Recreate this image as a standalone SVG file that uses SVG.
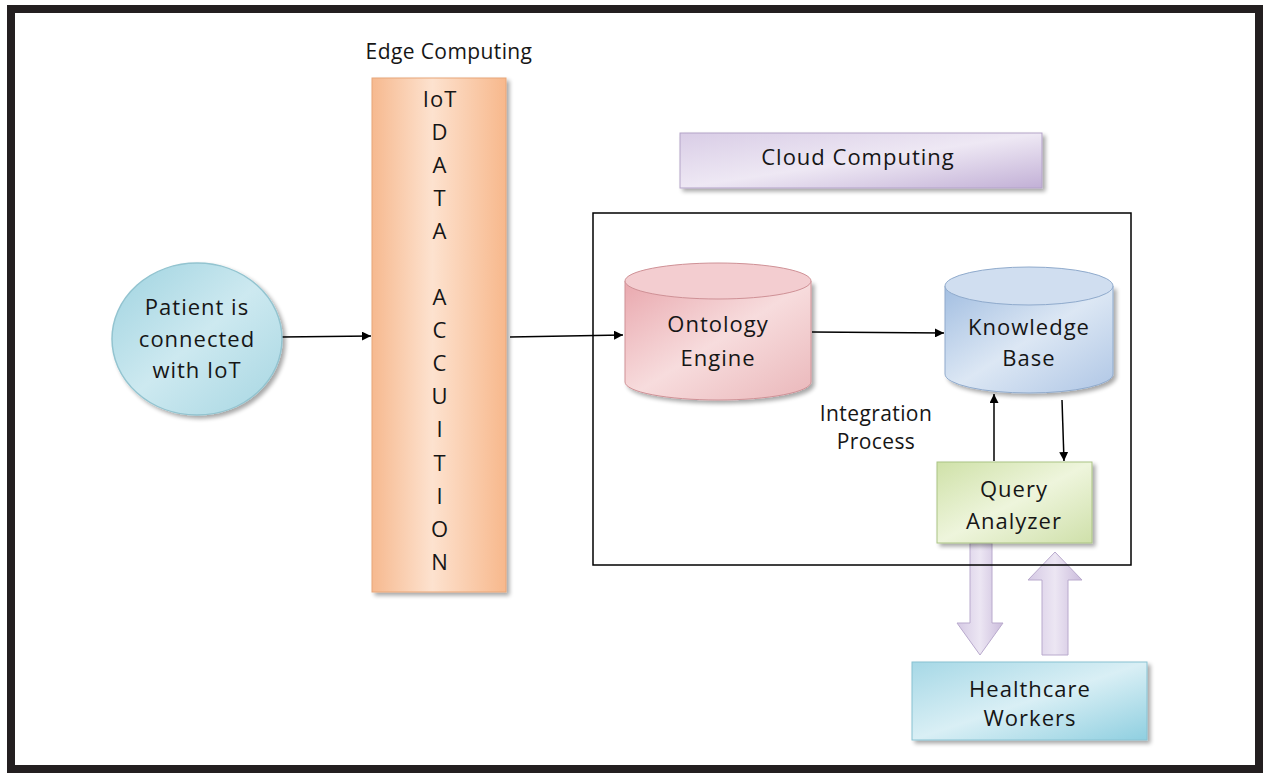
<svg xmlns="http://www.w3.org/2000/svg" width="1263" height="773" viewBox="0 0 1263 773">
<defs>
<style>
text{font-family:"Open Sans","Noto Sans",sans-serif;fill:#161616;text-anchor:middle}
.t{font-size:22px;letter-spacing:1px}
.l{font-size:21px;letter-spacing:0.4px}
.line{stroke:#000;stroke-width:1.5;fill:none}
</style>
<filter id="sh" x="-10%" y="-10%" width="130%" height="130%">
<feGaussianBlur in="SourceAlpha" stdDeviation="2"/>
<feOffset dx="3" dy="3"/>
<feComponentTransfer><feFuncA type="linear" slope="0.35"/></feComponentTransfer>
<feMerge><feMergeNode/><feMergeNode in="SourceGraphic"/></feMerge>
</filter>
<linearGradient id="gCyan" x1="0" y1="0" x2="1" y2="1"><stop offset="0" stop-color="#9fd3e0"/><stop offset="0.5" stop-color="#cde9f0"/><stop offset="1" stop-color="#a6d6e2"/></linearGradient>
<linearGradient id="gOrange" x1="0" y1="0" x2="1" y2="0"><stop offset="0" stop-color="#f6b98f"/><stop offset="0.45" stop-color="#fde2cf"/><stop offset="1" stop-color="#f7b88c"/></linearGradient>
<linearGradient id="gPurple" x1="0" y1="0" x2="1" y2="1"><stop offset="0" stop-color="#d9cde6"/><stop offset="0.5" stop-color="#eee8f4"/><stop offset="1" stop-color="#c2b0d6"/></linearGradient>
<linearGradient id="gPink" x1="0" y1="0" x2="1" y2="1"><stop offset="0" stop-color="#e9a8ae"/><stop offset="0.5" stop-color="#f7dcdd"/><stop offset="1" stop-color="#eab7ba"/></linearGradient>
<linearGradient id="gBlue" x1="0" y1="0" x2="1" y2="1"><stop offset="0" stop-color="#a2bee1"/><stop offset="0.5" stop-color="#dce7f4"/><stop offset="1" stop-color="#afc6e5"/></linearGradient>
<linearGradient id="gGreen" x1="0" y1="0" x2="1" y2="1"><stop offset="0" stop-color="#cfe1a8"/><stop offset="0.5" stop-color="#eef5dc"/><stop offset="1" stop-color="#cfe0aa"/></linearGradient>
<linearGradient id="gArrow" x1="0" y1="0" x2="1" y2="0"><stop offset="0" stop-color="#d5c9e4"/><stop offset="0.5" stop-color="#ece6f3"/><stop offset="1" stop-color="#cbbcdc"/></linearGradient>
<linearGradient id="gHW" x1="0" y1="0" x2="1" y2="1"><stop offset="0" stop-color="#a6d8e6"/><stop offset="0.5" stop-color="#d9eff5"/><stop offset="1" stop-color="#8fcfe0"/></linearGradient>
<marker id="ah" viewBox="0 0 10 10" refX="10" refY="5" markerWidth="9" markerHeight="9" markerUnits="userSpaceOnUse" orient="auto"><path d="M0,0 L10,5 L0,10 z" fill="#000"/></marker>
</defs>
<rect x="0" y="0" width="1263" height="773" fill="#fff"/>
<rect id="frame" x="11" y="9" width="1248" height="760" fill="none" stroke="#231f20" stroke-width="8"/>

<text x="449" y="59" class="l">Edge Computing</text>

<g id="connectors">
<line class="line" x1="282" y1="337" x2="371" y2="336" marker-end="url(#ah)"/>
<line class="line" x1="510" y1="337" x2="623" y2="335" marker-end="url(#ah)"/>
<line class="line" x1="812" y1="332" x2="944" y2="333" marker-end="url(#ah)"/>
<line class="line" x1="994" y1="461" x2="994" y2="394" marker-end="url(#ah)"/>
<line class="line" x1="1062" y1="400" x2="1064" y2="461" marker-end="url(#ah)"/>
<path id="arrowDown" d="M970,543 H992 V623 H1003 L980,655 L957,623 H970 Z" fill="url(#gArrow)" stroke="#b9aacd" stroke-width="1"/>
<path id="arrowUp" d="M1042,655 H1068 V580 H1082 L1055,552 L1028,580 H1042 Z" fill="url(#gArrow)" stroke="#b9aacd" stroke-width="1"/>
</g>

<g id="patient">
<ellipse cx="197" cy="339" rx="85" ry="76" fill="url(#gCyan)" stroke="#93c4d0" stroke-width="1.5" filter="url(#sh)"/>
<text class="t" x="197" y="315">Patient is</text>
<text class="t" x="197" y="347">connected</text>
<text class="t" x="197" y="378">with IoT</text>
</g>

<g id="iot">
<rect x="372" y="78" width="134" height="514" fill="url(#gOrange)" stroke="#e8a679" stroke-width="1" filter="url(#sh)"/>
<text class="t" x="440" y="107">IoT</text>
<text class="t" x="440" y="140">D</text>
<text class="t" x="440" y="173">A</text>
<text class="t" x="440" y="206">T</text>
<text class="t" x="440" y="239">A</text>
<text class="t" x="440" y="305">A</text>
<text class="t" x="440" y="338">C</text>
<text class="t" x="440" y="371">C</text>
<text class="t" x="440" y="404">U</text>
<text class="t" x="440" y="437">I</text>
<text class="t" x="440" y="471">T</text>
<text class="t" x="440" y="504">I</text>
<text class="t" x="440" y="537">O</text>
<text class="t" x="440" y="570">N</text>
</g>

<g id="cloud">
<rect x="680" y="133" width="362" height="55" fill="url(#gPurple)" stroke="#b3a3c8" stroke-width="1" filter="url(#sh)"/>
<text class="t" x="858" y="165">Cloud Computing</text>
</g>

<g id="cloudBox">
<rect x="593" y="213" width="538" height="352" fill="none" stroke="#000" stroke-width="1.5"/>
</g>

<g id="ontology">
<path d="M625,281 V382 A93,18 0 0 0 811,382 V281" fill="url(#gPink)" stroke="#cf9196" stroke-width="1" filter="url(#sh)"/>
<ellipse cx="718" cy="281" rx="93" ry="18" fill="#f3cdd0" stroke="#cf9196" stroke-width="1"/>
<text class="t" x="718" y="332">Ontology</text>
<text class="t" x="718" y="366">Engine</text>
</g>

<g id="kb">
<path d="M945,286 V374 A84,19 0 0 0 1113,374 V286" fill="url(#gBlue)" stroke="#8faacc" stroke-width="1" filter="url(#sh)"/>
<ellipse cx="1029" cy="286" rx="84" ry="19" fill="#d0def0" stroke="#8faacc" stroke-width="1"/>
<text class="t" x="1029" y="335">Knowledge</text>
<text class="t" x="1029" y="366">Base</text>
</g>

<text class="l" x="876" y="421">Integration</text>
<text class="l" x="876" y="449">Process</text>

<g id="query">
<rect x="937" y="462" width="155" height="81" fill="url(#gGreen)" stroke="#aac384" stroke-width="1" filter="url(#sh)"/>
<text class="t" x="1014" y="497">Query</text>
<text class="t" x="1014" y="529">Analyzer</text>
</g>

<g id="healthcare">
<rect x="912" y="662" width="235" height="78" fill="url(#gHW)" stroke="#88c2d2" stroke-width="1" filter="url(#sh)"/>
<text class="t" x="1030" y="697">Healthcare</text>
<text class="t" x="1030" y="726">Workers</text>
</g>
</svg>
